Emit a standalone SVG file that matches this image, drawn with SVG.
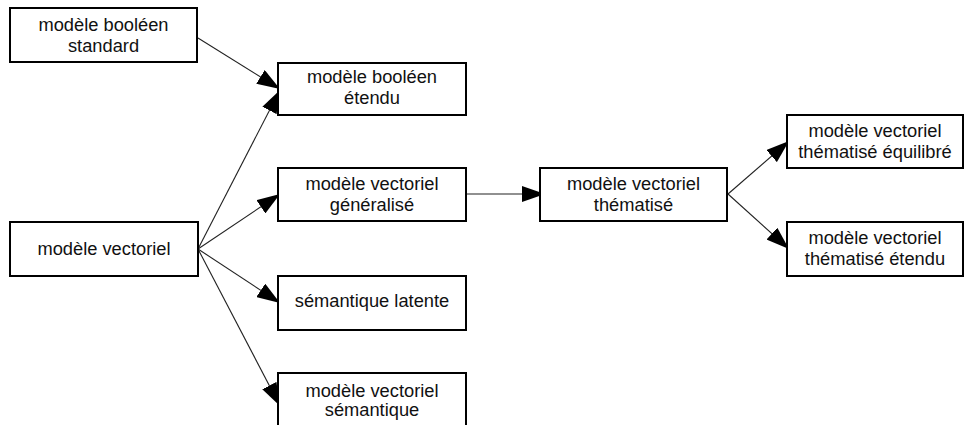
<svg xmlns="http://www.w3.org/2000/svg" width="964" height="425" viewBox="0 0 964 425">
  <defs>
    <style>
      .box { fill: #ffffff; stroke: #000000; stroke-width: 2; }
      .lbl { font-family: "Liberation Sans", Arial, sans-serif; font-size: 18.3px; fill: #111111; text-anchor: middle; }
      .conn { stroke: #222222; stroke-width: 1.1; fill: none; marker-end: url(#arr); }
    </style>
    <marker id="arr" viewBox="0 0 23 16" refX="23" refY="8" markerWidth="23" markerHeight="16" markerUnits="userSpaceOnUse" orient="auto">
      <path d="M0,0 L23,8 L0,16 Z" fill="#000000"/>
    </marker>
  </defs>
  <rect width="964" height="425" fill="#ffffff"/>

  <g id="connectors">
    <line class="conn" x1="198" y1="38" x2="280" y2="89"/>
    <line class="conn" x1="198" y1="249" x2="280" y2="90"/>
    <line class="conn" x1="198" y1="249" x2="280" y2="194"/>
    <line class="conn" x1="198" y1="249" x2="280" y2="303"/>
    <line class="conn" x1="198" y1="249" x2="280" y2="406"/>
    <line class="conn" x1="466" y1="194" x2="545" y2="194"/>
    <line class="conn" x1="728" y1="194" x2="789" y2="141"/>
    <line class="conn" x1="728" y1="194" x2="789" y2="249"/>
  </g>

  <g id="n-booleen-standard">
    <rect class="box" x="10" y="8" width="187" height="54"/>
    <text class="lbl" x="103.5" y="31">modèle booléen</text>
    <text class="lbl" x="103.5" y="52">standard</text>
  </g>
  <g id="n-booleen-etendu">
    <rect class="box" x="278" y="63" width="188" height="52"/>
    <text class="lbl" x="372" y="83">modèle booléen</text>
    <text class="lbl" x="372" y="104">étendu</text>
  </g>
  <g id="n-vectoriel">
    <rect class="box" x="10" y="222" width="188" height="54"/>
    <text class="lbl" x="104" y="255">modèle vectoriel</text>
  </g>
  <g id="n-vectoriel-generalise">
    <rect class="box" x="278" y="168" width="188" height="53"/>
    <text class="lbl" x="372" y="190">modèle vectoriel</text>
    <text class="lbl" x="372" y="211">généralisé</text>
  </g>
  <g id="n-semantique-latente">
    <rect class="box" x="278" y="276" width="188" height="54"/>
    <text class="lbl" x="372" y="307">sémantique latente</text>
  </g>
  <g id="n-vectoriel-semantique">
    <rect class="box" x="278" y="373" width="188" height="56"/>
    <text class="lbl" x="372" y="397">modèle vectoriel</text>
    <text class="lbl" x="372" y="416">sémantique</text>
  </g>
  <g id="n-vectoriel-thematise">
    <rect class="box" x="540" y="168" width="187" height="53"/>
    <text class="lbl" x="633.5" y="190">modèle vectoriel</text>
    <text class="lbl" x="633.5" y="211">thématisé</text>
  </g>
  <g id="n-thematise-equilibre">
    <rect class="box" x="787" y="115" width="176" height="53"/>
    <text class="lbl" x="875" y="137">modèle vectoriel</text>
    <text class="lbl" x="875" y="158">thématisé équilibré</text>
  </g>
  <g id="n-thematise-etendu">
    <rect class="box" x="787" y="222" width="176" height="54"/>
    <text class="lbl" x="875" y="244">modèle vectoriel</text>
    <text class="lbl" x="875" y="265">thématisé étendu</text>
  </g>
</svg>
